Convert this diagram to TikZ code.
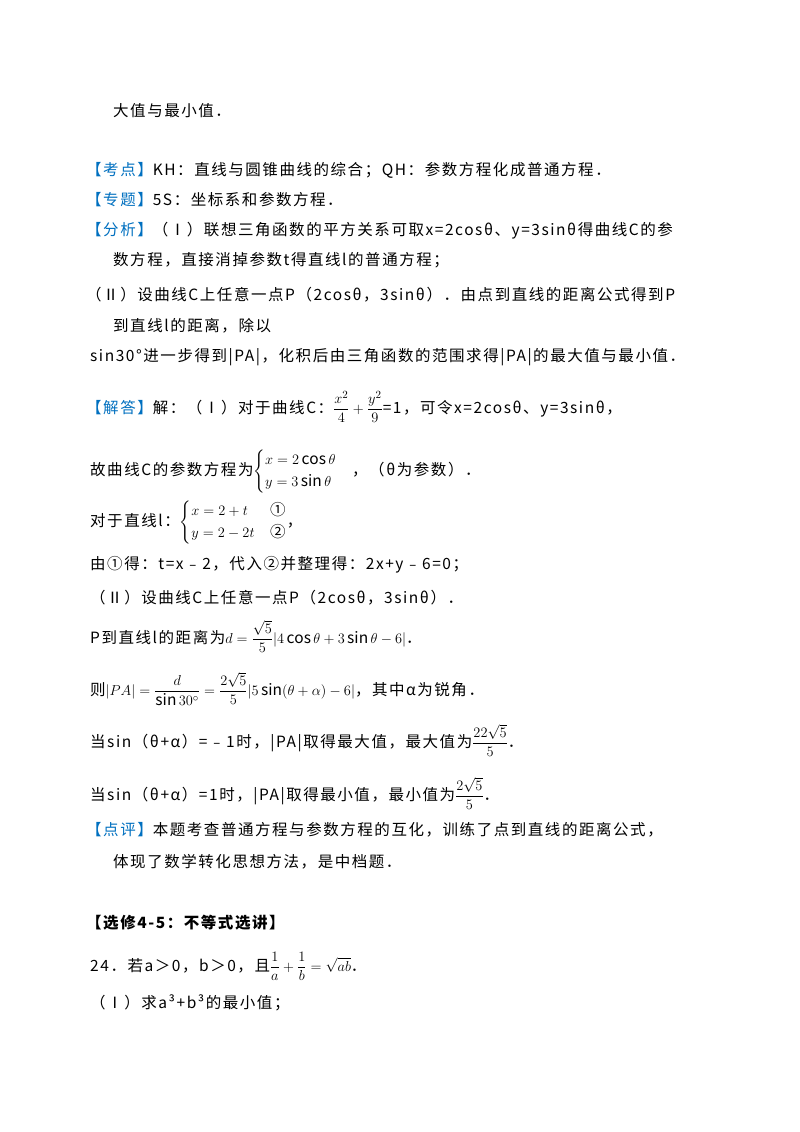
\documentclass[tikz,border=0pt]{standalone}
\usepackage{amsmath}
\usepackage{fontspec}
\setmainfont[LetterSpace=10]{Noto Sans CJK SC}
\definecolor{kb}{RGB}{0,112,192}
\begin{document}
\begin{tikzpicture}[x=1pt,y=-1pt,every node/.style={anchor=base west,inner sep=0pt,font=\fontsize{15.5}{18}\selectfont}]
\useasboundingbox (0,0) rectangle (800,1132);
\fill[white] (0,0) rectangle (800,1132);
\def\hd#1{\textcolor{kb}{【#1】}}
\node (l1) at (113,116) {大值与最小值．};
\node (l2) at (86,175) {\hd{考点}KH：直线与圆锥曲线的综合；QH：参数方程化成普通方程．};
\node (l3) at (86,205) {\hd{专题}5S：坐标系和参数方程．};
\node (l4) at (86,235) {\hd{分析}（Ⅰ）联想三角函数的平方关系可取x=2cosθ、y=3sinθ得曲线C的参};
\node (l5) at (113,265) {数方程，直接消掉参数t得直线l的普通方程；};
\node (l6) at (86,300) {（Ⅱ）设曲线C上任意一点P（2cosθ，3sinθ）．由点到直线的距离公式得到P};
\node (l7) at (113,331) {到直线l的距离，除以};
\node (l8) at (90,361) {sin30°进一步得到|PA|，化积后由三角函数的范围求得|PA|的最大值与最小值．};
\node (l9) at (86,413) {\hd{解答}解：（Ⅰ）对于曲线C：$\dfrac{x^2}{4}+\dfrac{y^2}{9}$=1，可令x=2cosθ、y=3sinθ，};
\node (l10) at (90,475) {故曲线C的参数方程为$\begin{cases}x=2\cos\theta\\ y=3\sin\theta\end{cases}$，（θ为参数）．};
\node (l11) at (90,526) {对于直线l：$\begin{cases}x=2+t & \text{①}\\ y=2-2t & \text{②}\end{cases}$，};
\node (l12) at (90,569) {由①得：t=x﹣2，代入②并整理得：2x+y﹣6=0；};
\node (l13) at (90,603) {（Ⅱ）设曲线C上任意一点P（2cosθ，3sinθ）．};
\node (l14) at (90,643) {P到直线l的距离为$d=\dfrac{\sqrt5}{5}|4\cos\theta+3\sin\theta-6|$．};
\node (l15) at (90,695) {则$|PA|=\dfrac{d}{\sin30^\circ}=\dfrac{2\sqrt5}{5}|5\sin(\theta+\alpha)-6|$，其中α为锐角．};
\node (l16) at (90,747) {当sin（θ+α）=﹣1时，|PA|取得最大值，最大值为$\dfrac{22\sqrt5}{5}$．};
\node (l17) at (90,800) {当sin（θ+α）=1时，|PA|取得最小值，最小值为$\dfrac{2\sqrt5}{5}$．};
\node (l18) at (86,835) {\hd{点评}本题考查普通方程与参数方程的互化，训练了点到直线的距离公式，};
\node (l19) at (113,867) {体现了数学转化思想方法，是中档题．};
\node[font=\fontsize{15.5}{18}\selectfont\bfseries] (l20) at (86,928) {【选修4-5：不等式选讲】};
\node (l21) at (90,971) {24．若a＞0，b＞0，且$\dfrac{1}{a}+\dfrac{1}{b}=\sqrt{ab}$．};
\node (l22) at (90,1008) {（Ⅰ）求a³+b³的最小值；};
\end{tikzpicture}
\end{document}
